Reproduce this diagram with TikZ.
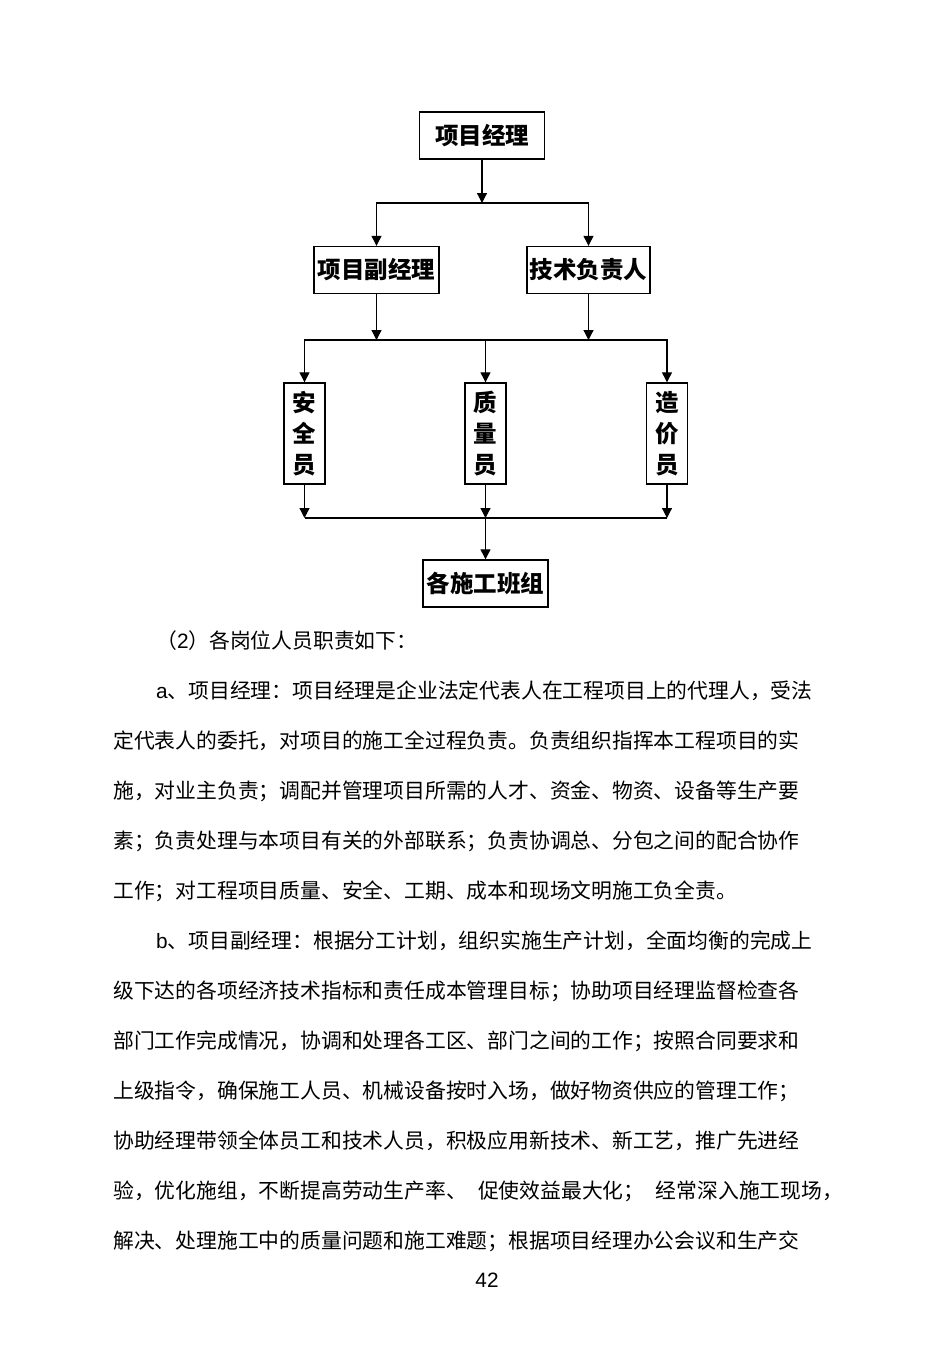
\documentclass[tikz,border=0pt]{standalone}
\usepackage{fontspec}
\setmainfont{Noto Sans CJK SC}
\newfontfamily\latinfont{Liberation Sans}
\usetikzlibrary{arrows.meta}

\XeTeXlinebreaklocale "zh"
\XeTeXlinebreakskip=0pt plus 3pt
\newcommand{\fullline}[1]{\makebox[688pt][s]{#1}}
\newcommand{\indline}[1]{\makebox[659pt][s]{#1}}

\tikzset{
	post/.style={draw, line width=1.4pt, inner sep=0pt, font=\bfseries\fontsize{23.5}{31}\selectfont},
	wide/.style={post, minimum width=125pt, minimum height=47pt},
	tall/.style={post, minimum width=41pt, minimum height=101pt, align=center},
	body/.style={anchor=base west, inner sep=0pt, font=\fontsize{20.8}{25}\selectfont},
	link/.style={line width=1.2pt},
	arr/.style={link, -{Triangle[width=10pt,length=10pt]}},
}

\begin{document}
\begin{tikzpicture}[x=1pt,y=-1pt]
					\useasboundingbox (0,0) rectangle (950,1345);

					\node[wide] (pm) at (482,135.5) {项目经理};
					\node[wide] (dpm) at (376.5,270) {项目副经理};
					\node[wide, minimum width=123pt] (tech) at (588.5,270) {技术负责人};
					\node[tall] (safe) at (304.5,433.5) {安\\全\\员};
					\node[tall] (qual) at (485.5,433.5) {质\\量\\员};
					\node[tall] (cost) at (667,433.5) {造\\价\\员};
					\node[wide] (team) at (485.5,583.5) {各施工班组};

					\coordinate (j1) at (482,203);
					\coordinate (j2) at (486,340);
					\coordinate (j3) at (486,518);

					\begin{scope}[arr]
						\draw (pm.south) -- (j1);
						\draw (j1) -| (dpm.north);
						\draw (j1) -| (tech.north);
						\draw (dpm.south) -- (dpm.south |- j2);
						\draw (tech.south) -- (tech.south |- j2);
						\draw (j2) -| (safe.north);
						\draw (j2) -| (cost.north);
						\draw (qual.north |- j2) -- (qual.north);
						\draw (safe.south) -- (safe.south |- j3);
						\draw (qual.south) -- (qual.south |- j3);
						\draw (cost.south) -- (cost.south |- j3);
						\draw (qual.south |- j3) -- (team.north);
					\end{scope}

					\begin{scope}[link]
						\draw (safe.south |- j3) -- (cost.south |- j3);
					\end{scope}

					\node[body] (head) at (156,648) {（{\latinfont 2}）各岗位人员职责如下：};
					\node[body] (dutyA1) at (156,698) {\indline{{\latinfont a}、项目经理：项目经理是企业法定代表人在工程项目上的代理人，受法}};
					\node[body] (dutyA2) at (113,748) {\fullline{定代表人的委托，对项目的施工全过程负责。负责组织指挥本工程项目的实}};
					\node[body] (dutyA3) at (113,798) {\fullline{施，对业主负责；调配并管理项目所需的人才、资金、物资、设备等生产要}};
					\node[body] (dutyA4) at (113,848) {\fullline{素；负责处理与本项目有关的外部联系；负责协调总、分包之间的配合协作}};
					\node[body] (dutyA5) at (113,898) {工作；对工程项目质量、安全、工期、成本和现场文明施工负全责。};
					\node[body] (dutyB1) at (156,948) {\indline{{\latinfont b}、项目副经理：根据分工计划，组织实施生产计划，全面均衡的完成上}};
					\node[body] (dutyB2) at (113,998) {\fullline{级下达的各项经济技术指标和责任成本管理目标；协助项目经理监督检查各}};
					\node[body] (dutyB3) at (113,1048) {\fullline{部门工作完成情况，协调和处理各工区、部门之间的工作；按照合同要求和}};
					\node[body] (dutyB4) at (113,1098) {\fullline{上级指令，确保施工人员、机械设备按时入场，做好物资供应的管理工作；}};
					\node[body] (dutyB5) at (113,1148) {\fullline{协助经理带领全体员工和技术人员，积极应用新技术、新工艺，推广先进经}};
					\node[body] (dutyB6) at (113,1198) {\makebox[730pt][s]{验，优化施组，不断提高劳动生产率、 促使效益最大化； 经常深入施工现场，}};
					\node[body] (dutyB7) at (113,1248) {\fullline{解决、处理施工中的质量问题和施工难题；根据项目经理办公会议和生产交}};

					\node[inner sep=0pt, font=\latinfont\fontsize{20.8}{25}\selectfont] (pg) at (487,1280) {42};
				\end{tikzpicture}
\end{document}
